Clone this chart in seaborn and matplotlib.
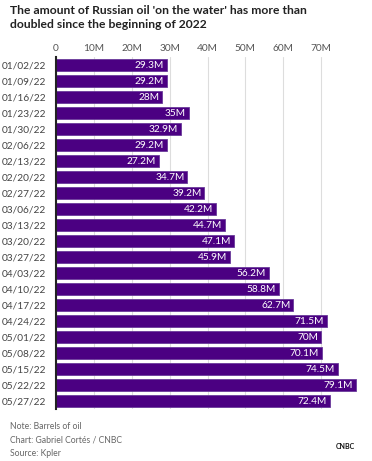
import matplotlib
matplotlib.use("Agg")
import matplotlib.pyplot as plt
import seaborn as sns
import pandas as pd

dates = ["01/02/22", "01/09/22", "01/16/22", "01/23/22", "01/30/22", "02/06/22",
         "02/13/22", "02/20/22", "02/27/22", "03/06/22", "03/13/22", "03/20/22",
         "03/27/22", "04/03/22", "04/10/22", "04/17/22", "04/24/22", "05/01/22",
         "05/08/22", "05/15/22", "05/22/22", "05/27/22"]
barrels = [29.3, 29.2, 28, 35, 32.9, 29.2, 27.2, 34.7, 39.2, 42.2, 44.7, 47.1,
           45.9, 56.2, 58.8, 62.7, 71.5, 70, 70.1, 74.5, 79.1, 72.4]
ticks = [0, 10, 20, 30, 40, 50, 60, 70]
tick_labels = ["0", "10M", "20M", "30M", "40M", "50M", "60M", "70M"]

df = pd.DataFrame({"date": dates, "barrels": barrels})

sns.set_style("white")
plt.rcParams["font.family"] = ["Lato", "DejaVu Sans"]

fig = plt.figure(figsize=(3.72, 4.61), dpi=100)
ax = fig.add_axes([56 / 372, 1 - 409 / 461, 303 / 372, 352 / 461])

sns.barplot(data=df, x="barrels", y="date", orient="h", color="#4b0082",
            saturation=1, width=0.76, ax=ax, zorder=3,
            edgecolor="#6a3a9a", linewidth=0.6)

for i, v in enumerate(barrels):
    ax.text(v - 0.8, i, f"{v:g}M", color="white", ha="right", va="center",
            fontsize=7.3, zorder=4)

ax.set_xlim(0, 80)
ax.set_xticks(ticks)
ax.set_xticklabels(tick_labels)
ax.xaxis.tick_top()
ax.tick_params(axis="x", length=0, labelsize=7.3, labelcolor="#555555", pad=3)
ax.tick_params(axis="y", length=0, labelsize=7.3, labelcolor="#444444", pad=7)
ax.set_xlabel("")
ax.set_ylabel("")
ax.grid(axis="x", color="#dddddd", linewidth=0.8, zorder=0)
for s in ["top", "right", "bottom"]:
    ax.spines[s].set_visible(False)
ax.spines["left"].set_color("#222222")
ax.spines["left"].set_linewidth(1.5)
ax.spines["left"].set_zorder(5)

fig.text(10 / 372, 1 - 5 / 461,
         "The amount of Russian oil 'on the water' has more than\ndoubled since the beginning of 2022",
         ha="left", va="top", fontsize=8.7, fontweight="bold", color="#222222",
         linespacing=1.35)

fig.text(10 / 372, 1 - 426 / 461, "Note: Barrels of oil", fontsize=6.2,
         color="#666666", va="center")
fig.text(10 / 372, 1 - 440 / 461, "Chart: Gabriel Cortés / CNBC", fontsize=6.2,
         color="#666666", va="center")
fig.text(10 / 372, 1 - 453 / 461, "Source: Kpler", fontsize=6.2,
         color="#666666", va="center")
fig.text(345 / 372, 1 - 446 / 461, "CNBC", fontsize=5, fontweight="bold",
         color="#111111", ha="center", va="center")

fig.savefig("out.png", dpi=100)
